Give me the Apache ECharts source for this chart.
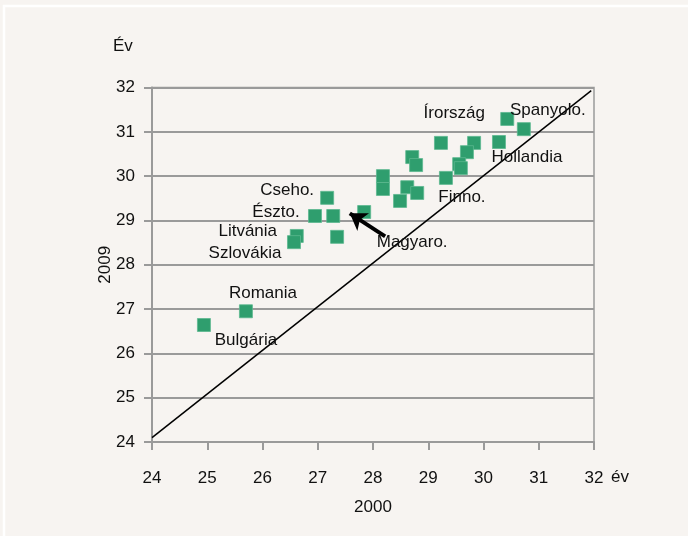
<!DOCTYPE html>
<html>
<head>
<meta charset="utf-8">
<script src="https://cdn.jsdelivr.net/npm/echarts@6/dist/echarts.min.js"></script>
<style>
html,body{margin:0;padding:0;background:#f7f4f1;}
#c{width:688px;height:536px;}
</style>
</head>
<body>
<div id="c"></div>
<script>
// Average age values: x = 2000, y = 2009
var xValues2000 = [24.94, 25.70, 26.62, 26.57, 26.95, 27.17, 27.28, 27.35, 27.84, 28.18, 28.18, 28.62, 28.80, 28.49, 28.71, 28.78, 29.23, 29.83, 29.70, 30.28, 29.56, 29.59, 29.32, 30.43, 30.73];
var yValues2009 = [26.64, 26.95, 28.65, 28.51, 29.10, 29.51, 29.10, 28.63, 29.19, 30.00, 29.71, 29.75, 29.62, 29.44, 30.43, 30.25, 30.75, 30.75, 30.54, 30.77, 30.27, 30.18, 29.96, 31.29, 31.06];
var pointNames = ['Bulgária', 'Romania', 'Litvánia', 'Szlovákia', 'Észto.', 'Cseho.', '', '', 'Magyaro.', '', '', '', '', '', '', '', '', '', '', 'Hollandia', '', '', 'Finno.', 'Írország', 'Spanyolo.'];
var axisTicks = [24, 25, 26, 27, 28, 29, 30, 31, 32];
var refLineX = [24, 31.95];
var refLineY = [24.1, 31.93];
var arrowFrom = [28.22, 28.64];
var arrowTo = [27.58, 29.16];

// label placement (pixel offsets from point)
var labelOffsets = {
  'Bulgária': [42, 15],
  'Romania': [17, -18],
  'Litvánia': [-49, -5],
  'Szlovákia': [-49, 11],
  'Észto.': [-39, -4],
  'Cseho.': [-40, -8],
  'Magyaro.': [48, 30],
  'Hollandia': [28, 15],
  'Finno.': [16, 19],
  'Írország': [-53, -6],
  'Spanyolo.': [24, -19]
};

var FONT = '"Liberation Sans", Arial, sans-serif';
var FS = 17;
var scatterData = xValues2000.map(function (x, i) {
  var name = pointNames[i];
  var item = { value: [x, yValues2009[i]], name: name };
  if (name) {
    item.label = {
      show: true,
      formatter: name,
      position: 'inside',
      offset: labelOffsets[name],
      color: '#111',
      fontSize: FS,
      fontFamily: FONT
    };
  }
  return item;
});

var chart = echarts.init(document.getElementById('c'));
chart.setOption({
  backgroundColor: '#f7f4f1',
  animation: false,
  graphic: [{
    type: 'rect',
    shape: { x: 4, y: 6, width: 700, height: 560 },
    style: { fill: 'none', stroke: '#ffffff', lineWidth: 2.5 },
    z: -1
  }, {
    type: 'text', left: 113, top: 38,
    style: { text: 'Év', fontSize: FS, fontFamily: FONT, fill: '#111' }
  }, {
    type: 'text', left: 611, top: 469,
    style: { text: 'év', fontSize: FS, fontFamily: FONT, fill: '#111' }
  }],
  grid: {
    left: 152, right: 94, top: 87.5, bottom: 94,
    show: true, borderColor: '#9a9a9a', borderWidth: 1.5, backgroundColor: 'transparent'
  },
  xAxis: {
    type: 'value', min: 24, max: 32, interval: 1,
    name: '2000', nameLocation: 'middle', nameGap: 57, nameMoveOverlap: false,
    nameTextStyle: { fontSize: FS, fontFamily: FONT, color: '#111' },
    axisLine: { lineStyle: { color: '#9a9a9a', width: 2 } },
    axisTick: { show: true, length: 8, lineStyle: { color: '#9a9a9a', width: 2 } },
    axisLabel: { margin: 28, fontSize: FS, fontFamily: FONT, color: '#111',
      formatter: function (v) { return axisTicks.indexOf(v) >= 0 ? String(v) : ''; } },
    splitLine: { show: false }
  },
  yAxis: {
    type: 'value', min: 24, max: 32, interval: 1,
    name: '2009', nameLocation: 'middle', nameGap: 38, nameRotate: 90, nameMoveOverlap: false,
    nameTextStyle: { fontSize: FS, fontFamily: FONT, color: '#111' },
    axisLine: { show: true, lineStyle: { color: '#9a9a9a', width: 2 } },
    axisTick: { show: true, length: 8, lineStyle: { color: '#9a9a9a', width: 2 } },
    axisLabel: { margin: 17, fontSize: FS, fontFamily: FONT, color: '#111',
      formatter: function (v) { return axisTicks.indexOf(v) >= 0 ? String(v) : ''; } },
    splitLine: { show: true, lineStyle: { color: '#9a9a9a', width: 2 } }
  },
  series: [{
    type: 'line',
    data: [[refLineX[0], refLineY[0]], [refLineX[1], refLineY[1]]],
    symbol: 'none',
    lineStyle: { color: '#000', width: 1.5 },
    z: 2
  }, {
    type: 'scatter',
    symbol: 'rect',
    symbolSize: 13,
    itemStyle: { color: '#2f9e6e', borderColor: '#5cb88f', borderWidth: 0.8, opacity: 1 },
    data: scatterData,
    z: 3
  }, {
    type: 'lines',
    coordinateSystem: 'cartesian2d',
    symbol: ['none', 'arrow'],
    symbolSize: [0, 16],
    lineStyle: { color: '#000', width: 4, opacity: 1 },
    data: [{ coords: [arrowFrom, arrowTo] }],
    z: 4
  }]
});
</script>
</body>
</html>
